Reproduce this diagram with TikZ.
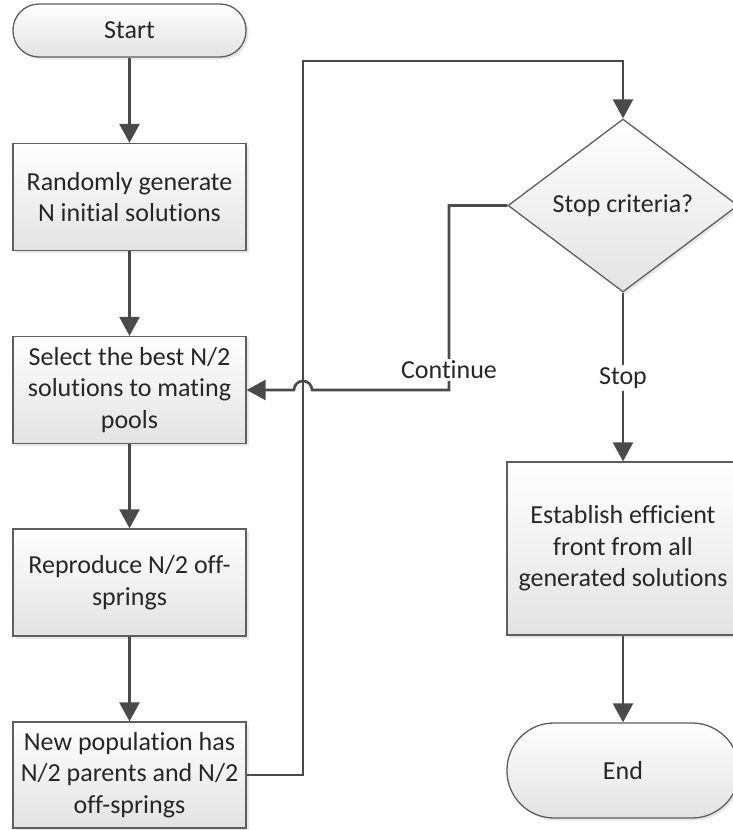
\documentclass[tikz,border=0pt]{standalone}
\usepackage{fontspec}
\setmainfont[Ligatures=NoCommon]{Carlito}
\usetikzlibrary{arrows.meta,shapes.geometric,shadows}
\definecolor{linec}{HTML}{4A4A4A}
\definecolor{borderc}{HTML}{5E5E5E}
\definecolor{textc}{HTML}{262626}
\tikzset{
  box/.style={draw=borderc, line width=1.3pt, top color=white, bottom color=black!11,
    drop shadow={opacity=0.18, shadow xshift=2.5pt, shadow yshift=-2.5pt},
    minimum width=233pt, minimum height=107pt, inner sep=0pt, align=center,
    text=textc, font=\fontsize{26}{31.5}\selectfont},
  term/.style={box, rounded corners=26pt, minimum height=53pt},
  dec/.style={box, diamond, minimum width=230pt, minimum height=173pt},
  conn/.style={draw=linec, line width=2.6pt, -{Triangle[length=19pt,width=20pt]}},
  lbl/.style={fill=white, inner sep=2pt, text=textc, font=\fontsize{26}{31.5}\selectfont},
}
\begin{document}
\begin{tikzpicture}[x=1pt,y=1pt]
\useasboundingbox (0,0) rectangle (733,-830);
% left column
\node[term] (start) at (129.5,-30.5) {Start};
\node[box] (gen) at (129.5,-197) {Randomly generate\\N initial solutions};
\node[box] (sel) at (129.5,-390) {Select the best N/2\\solutions to mating\\pools};
\node[box] (rep) at (129.5,-582.5) {Reproduce N/2 off-\\springs};
\node[box, minimum height=106pt] (newpop) at (129.5,-775) {New population has\\N/2 parents and N/2\\off-springs};
% right column
\node[dec] (stopc) at (623,-205.5) {Stop criteria?};
\node[box, minimum height=173pt, minimum width=232pt] (est) at (623,-548.5) {Establish efficient\\front from all\\generated solutions};
\node[box, rounded corners=47pt, minimum height=95pt, minimum width=232pt] (fin) at (623,-770.5) {End};
% connectors
\draw[conn] (start) -- (gen);
\draw[conn] (gen) -- (sel);
\draw[conn] (sel) -- (rep);
\draw[conn] (rep) -- (newpop);
\coordinate (topL) at (303,-61);
\draw[conn] (newpop.east) -| (topL) -| (stopc.north);
\coordinate (contc) at (449,-390);
\coordinate (hopR) at (312,-390);
\draw[conn] (stopc.west) -| (contc) -- (hopR) arc[start angle=0, end angle=180, radius=9] -- (sel.east);
\node[lbl] (contlbl) at (449,-370) {Continue};
\draw[conn] (stopc.south) -- (est);
\node[lbl] (stoplabel) at (623,-378) {Stop};
\draw[conn] (est) -- (fin);
\end{tikzpicture}
\end{document}
